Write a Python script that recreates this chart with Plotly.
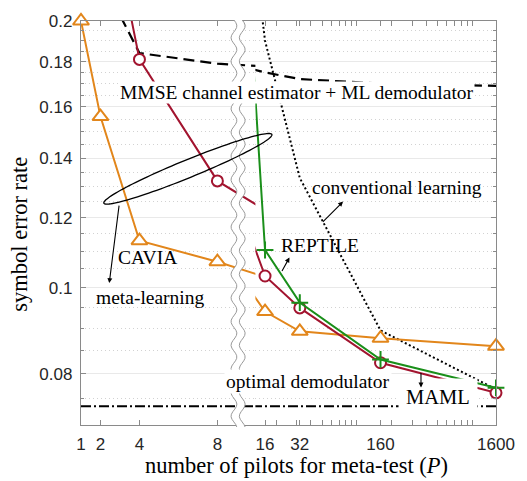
import math
import plotly.graph_objects as go

# ---- data -------------------------------------------------------------
# number of pilots used at meta-test time
P = [1, 2, 4, 8, 16, 32, 160, 1600]

# symbol error rate of each scheme (None: not evaluated)
CAVIA = [0.200, 0.156, 0.113, 0.107, 0.0940, 0.0893, 0.0877, 0.0859]
MAML = [0.40, 0.30, 0.181, 0.132, 0.1031, 0.0949, 0.0823, 0.0761]
REPTILE = [None, None, None, 0.46, 0.1103, 0.0962, 0.0830, 0.0771]
CONVENTIONAL = [None, None, None, 0.40, 0.190, 0.133, 0.0895, 0.0768]
MMSE_ML = [0.27, 0.224, 0.184, 0.179, 0.175, 0.172, 0.170, 0.169]
OPTIMAL = [0.0735, 0.0735, 0.0735, 0.0735, 0.0735, 0.0735, 0.0735, 0.0735]

# axis ticks
X_LEFT_TICKS = [1, 2, 4, 8]
X_RIGHT_LABELS = [16, 32, 160, 1600]
X_RIGHT_MINOR = [20, 30, 40, 50, 60, 70, 80, 90, 100, 200, 300, 400, 500,
                 600, 700, 800, 900, 1000]
Y_TICKS = [0.08, 0.10, 0.12, 0.14, 0.16, 0.18, 0.20]
Y_TICK_TEXT = ["0.08", "0.1", "0.12", "0.14", "0.16", "0.18", "0.2"]
Y_MINOR = [0.070, 0.075, 0.085, 0.090, 0.095, 0.105, 0.110, 0.115, 0.125,
           0.130, 0.135, 0.145, 0.150, 0.155, 0.165, 0.170, 0.175, 0.185,
           0.190, 0.195]

# ---- figure geometry ----------------------------------------------------
W, H = 527, 481
ML, MR, MT, MB = 81, 20, 15, 56
PW, PH = W - ML - MR, H - MT - MB
SPLIT = 0.4202          # where the linear part hands over to the log part
X_LEFT_RANGE = [1, 9.95]
X_RIGHT_RANGE = [math.log10(13.2), math.log10(1600)]
Y_RANGE = [math.log10(0.07), math.log10(0.2)]

ORANGE = "#E2861B"
RED = "#A2142F"
GREEN = "#1A8F1A"
GREY = "#8a8a8a"
SERIF = "Liberation Serif"
SANS = "Liberation Sans"


def px(x):
    return (x - ML) / PW


def py(y):
    return (MT + PH - y) / PH


fig = go.Figure()


def add_series(values, color, width, dash=None, symbol=None, size=None):
    for xa, ya in (("x", "y"), ("x2", "y2")):
        fig.add_trace(go.Scatter(
            x=P, y=values, xaxis=xa, yaxis=ya, mode="lines",
            line=dict(color=color, width=width, dash=dash),
            hoverinfo="skip", showlegend=False))
        if symbol:
            if symbol == "cross-thin":
                marker = dict(symbol=symbol, size=size,
                              line=dict(color=color, width=2))
            else:
                marker = dict(symbol=symbol, size=size, color="white",
                              line=dict(color=color, width=2))
            fig.add_trace(go.Scatter(
                x=P, y=values, xaxis=xa, yaxis=ya, mode="markers",
                marker=marker, cliponaxis=False,
                hoverinfo="skip", showlegend=False))


add_series(OPTIMAL, "black", 2, dash="10px,3px,2px,3px")
add_series(MMSE_ML, "black", 2.2, dash="11px,6px")
add_series(CONVENTIONAL, "black", 2, dash="2px,2.5px")
add_series(CAVIA, ORANGE, 2, symbol="triangle-up", size=14)
add_series(MAML, RED, 2, symbol="circle", size=11)
add_series(REPTILE, GREEN, 2, symbol="cross-thin", size=12)

# ---- axes -------------------------------------------------------------
tickfont = dict(family=SANS, size=17, color="#262626")
common_x = dict(ticks="inside", ticklen=5, tickcolor=GREY, showline=True,
                linecolor=GREY, linewidth=1.3, mirror="ticks",
                showgrid=False, zeroline=False, tickfont=tickfont)
common_y = dict(type="log", range=Y_RANGE, tickvals=Y_TICKS,
                ticktext=Y_TICK_TEXT, ticks="inside", ticklen=5,
                tickcolor=GREY, showline=True, linecolor=GREY, linewidth=1.3,
                showgrid=True, gridcolor="#e9e9e9", gridwidth=1.2,
                zeroline=False, tickfont=tickfont,
                minor=dict(tickvals=Y_MINOR, ticks="inside", ticklen=3,
                           tickcolor=GREY, showgrid=True,
                           gridcolor="#d2d2d2", griddash="1px,3px",
                           gridwidth=1))

right_vals = sorted(X_RIGHT_LABELS + X_RIGHT_MINOR)
right_text = [str(v) if v in X_RIGHT_LABELS else "" for v in right_vals]

fig.update_layout(
    width=W, height=H,
    margin=dict(l=ML, r=MR, t=MT, b=MB),
    paper_bgcolor="white", plot_bgcolor="white",
    xaxis=dict(domain=[0, SPLIT], range=X_LEFT_RANGE, tickvals=X_LEFT_TICKS,
               ticktext=[str(v) for v in X_LEFT_TICKS], anchor="y",
               ticklabelstandoff=3, **common_x),
    xaxis2=dict(domain=[SPLIT, 1], type="log", range=X_RIGHT_RANGE,
                tickvals=right_vals, ticktext=right_text, anchor="y2",
                ticklabelstandoff=3, **common_x),
    yaxis=dict(anchor="x", side="left", ticklabelstandoff=4, **common_y),
    yaxis2=dict(anchor="x2", side="right", matches="y",
                showticklabels=False, **common_y),
)

# ---- axis break ---------------------------------------------------------
def wavy(xc, y0, y1, amp=3.0, period=24.0, n=160):
    pts = []
    for i in range(n + 1):
        y = y0 + (y1 - y0) * i / n
        pts.append((xc + amp * math.sin(2 * math.pi * (y - y0) / period), y))
    return pts


def to_path(pts, close=False):
    s = "M" + " L".join(f"{px(x):.5f},{py(y):.5f}" for x, y in pts)
    return s + (" Z" if close else "")


left_w = wavy(238.0, MT - 1, MT + PH + 2)
right_w = wavy(246.5, MT - 1, MT + PH + 2)
fig.add_shape(type="path", xref="paper", yref="paper", layer="above",
              path=to_path(left_w + right_w[::-1], close=True),
              fillcolor="white", line=dict(width=0))
for pts in (left_w, right_w):
    fig.add_shape(type="path", xref="paper", yref="paper", layer="above",
                  path=to_path(pts), line=dict(color="#999999", width=1))

# ---- ellipse grouping the meta-learning curves --------------------------
cx, cy, ra, rb, ang = 190.7, 165.0, 93.0, 9.0, math.radians(22.0)
ell = []
for i in range(121):
    t = 2 * math.pi * i / 120
    ex, ey = ra * math.cos(t), rb * math.sin(t)
    ell.append((cx + ex * math.cos(ang) + ey * math.sin(ang),
                cy - ex * math.sin(ang) + ey * math.cos(ang)))
fig.add_shape(type="path", xref="paper", yref="paper", layer="above",
              path=to_path(ell, close=True), line=dict(color="black", width=1.3))

# ---- text -------------------------------------------------------------
def label(text, x, y, size=19.5, bg=None, pad=1, angle=0):
    fig.add_annotation(text=text, x=px(x), y=py(y), xref="paper",
                       yref="paper", showarrow=False, textangle=angle,
                       font=dict(family=SERIF, size=size, color="black"),
                       bgcolor=bg, borderpad=pad,
                       xanchor="center", yanchor="middle")


def arrow(tail, head):
    fig.add_annotation(text="", x=px(head[0]), y=py(head[1]), xref="paper",
                       yref="paper", ax=tail[0] - head[0],
                       ay=tail[1] - head[1], showarrow=True, arrowhead=2,
                       arrowsize=0.9, arrowwidth=1.1, arrowcolor="black",
                       standoff=0, startstandoff=0)


label("MMSE channel estimator + ML demodulator", 302.5, 88, bg="white",
      pad=0)
label("conventional learning", 405.8, 183.5)
label("REPTILE", 326.5, 242.5)
label("CAVIA", 149.2, 255.5)
label("meta-learning", 152.2, 295.5)
label("optimal demodulator", 314, 380.5, bg="white")
label("MAML", 447.5, 396.5, size=20.5, bg="white", pad=7)
arrow((328.3, 220), (350, 198.3))
arrow((286.7, 270), (295, 255))
arrow((120, 202), (110, 281))
arrow((430, 371), (430, 387))

label("symbol error rate", 17.5, 231.7, size=22.5, angle=-90)
label("number of pilots for meta-test (<i>P</i>)", 302, 466.5, size=22.5)

fig.write_html("out.html")
